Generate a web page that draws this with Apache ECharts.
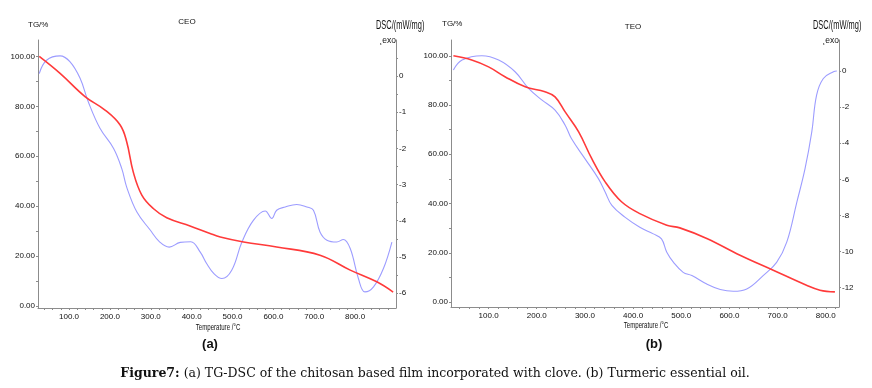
<!DOCTYPE html>
<html>
<head>
<meta charset="utf-8">
<script src="https://cdn.jsdelivr.net/npm/echarts@6/dist/echarts.min.js"></script>
<style>html,body{margin:0;padding:0;background:#fff}#c{width:872px;height:388px}</style>
</head>
<body>
<div id="c"></div>
<script>
// ---- Panel (a) CEO ----
var ceoTgT  = [27, 78, 139, 188, 225, 241, 257, 278, 306, 339, 396, 445, 470, 527, 608, 714, 788, 853, 893];
var ceoTg   = [100, 93.2, 83.9, 78.5, 72.5, 65.8, 53.7, 44.4, 39, 35.3, 32, 29, 27.6, 25.6, 23.6, 20.3, 14.3, 9.6, 5.5];
var ceoDscT = [27, 45, 78, 102, 127, 147, 176, 209, 229, 241, 266, 298, 322, 345, 372, 398, 421, 437, 455, 474, 498, 523, 551, 580, 596, 608, 629, 657, 682, 698, 714, 731, 755, 771, 788, 808, 824, 845, 869, 890];
var ceoDsc  = [0.07, 0.44, 0.56, 0.40, -0.06, -0.71, -1.45, -2.0, -2.56, -3.07, -3.76, -4.25, -4.59, -4.73, -4.6, -4.58, -4.87, -5.19, -5.47, -5.6, -5.37, -4.59, -3.99, -3.73, -3.94, -3.71, -3.62, -3.55, -3.62, -3.71, -4.31, -4.54, -4.59, -4.52, -4.77, -5.6, -5.97, -5.83, -5.33, -4.59];
// ---- Panel (b) TEO ----
var teoTgT  = [27, 65, 100, 134, 176, 217, 238, 259, 287, 314, 342, 376, 414, 470, 497, 553, 622, 691, 760, 788, 819];
var teoTg   = [100, 98.3, 95.5, 91.5, 87.4, 85.4, 83.3, 77.2, 69.1, 58.3, 48.8, 40.7, 35.9, 31.2, 30.1, 25.8, 19, 12.9, 6.8, 4.8, 4.1];
var teoDscT = [27, 45, 86, 121, 155, 183, 211, 238, 259, 272, 300, 328, 342, 356, 383, 414, 442, 459, 470, 484, 504, 522, 553, 581, 608, 636, 670, 698, 719, 740, 757, 771, 781, 795, 816, 823];
var teoDsc  = [0.06, 0.61, 0.85, 0.61, -0.04, -0.96, -1.61, -2.17, -3.0, -3.74, -4.85, -5.96, -6.7, -7.44, -8.09, -8.65, -9.02, -9.3, -10.04, -10.6, -11.15, -11.33, -11.8, -12.1, -12.2, -12.07, -11.33, -10.6, -9.48, -7.26, -5.41, -3.37, -1.33, -0.41, -0.04, 0];
// ---- Tick labels ----
var xLabels   = [100, 200, 300, 400, 500, 600, 700, 800];
var tgLabels  = [0, 20, 40, 60, 80, 100];
var dscALabels = [-6, -5, -4, -3, -2, -1, 0];
var dscBLabels = [-12, -10, -8, -6, -4, -2, 0];

function range(a, b, s) { var r = []; for (var v = a; v <= b + 1e-9; v += s) r.push(+v.toFixed(3)); return r; }
function pairs(xs, ys) { return xs.map(function (x, i) { return [x, ys[i]]; }); }

var AX = '#8c8c8c';
var FN = "'Liberation Sans',Arial,sans-serif";
var lblStyle = { color: '#111', fontSize: 8, fontFamily: FN };

function xAxis(idx, min, max) {
  return {
    type: 'value', gridIndex: idx, min: min, max: max, splitLine: { show: false },
    axisLine: { onZero: false, lineStyle: { color: AX, width: 1 } },
    axisTick: { show: true, length: 2, customValues: range(40, 880, 20).filter(function (v) { return v > min && v < max; }), lineStyle: { color: AX } },
    axisLabel: Object.assign({ customValues: xLabels, margin: 5, formatter: function (v) { return v.toFixed(1); } }, lblStyle)
  };
}
function yAxis(idx, pos, min, max, labels, ticks, fmt) {
  return {
    type: 'value', gridIndex: idx, position: pos, min: min, max: max, splitLine: { show: false },
    axisLine: { show: true, onZero: false, lineStyle: { color: AX, width: 1 } },
    axisTick: { show: true, length: 2, customValues: ticks, lineStyle: { color: AX } },
    axisLabel: Object.assign({ customValues: labels, margin: 3, formatter: fmt }, lblStyle)
  };
}
function txt(x, y, s, opt, sx) {
  return { type: 'text', x: x, y: y, scaleX: sx || 1, style: Object.assign({ text: s, fill: '#111', fontSize: 8, fontFamily: FN, verticalAlign: 'middle' }, opt || {}) };
}

var RED = '#ff3a3a', BLUE = '#9c9cff';
var tgFmt = function (v) { return v.toFixed(2); };
var dscFmt = function (v) { return String(v); };

var option = {
  animation: false,
  grid: [
    { left: 38, top: 40, width: 358, height: 268, outerBoundsMode: 'none' },
    { left: 451, top: 40, width: 388, height: 267, outerBoundsMode: 'none' }
  ],
  xAxis: [xAxis(0, 24, 900), xAxis(1, 22, 827.5)],
  yAxis: [
    yAxis(0, 'left', -0.9, 106.6, tgLabels, range(0, 100, 10), tgFmt),
    yAxis(0, 'right', -6.415, 1.0, dscALabels, range(-6, 0.5, 0.5), dscFmt),
    yAxis(1, 'left', -2.03, 106.4, tgLabels, range(0, 100, 10), tgFmt),
    yAxis(1, 'right', -13.07, 1.72, dscBLabels, dscBLabels, dscFmt)
  ],
  series: [
    { type: 'line', xAxisIndex: 0, yAxisIndex: 1, data: pairs(ceoDscT, ceoDsc), smooth: 0.4, showSymbol: false, lineStyle: { color: BLUE, width: 1.1 } },
    { type: 'line', xAxisIndex: 0, yAxisIndex: 0, data: pairs(ceoTgT, ceoTg), smooth: 0.4, showSymbol: false, lineStyle: { color: RED, width: 1.6 } },
    { type: 'line', xAxisIndex: 1, yAxisIndex: 3, data: pairs(teoDscT, teoDsc), smooth: 0.4, showSymbol: false, lineStyle: { color: BLUE, width: 1.1 } },
    { type: 'line', xAxisIndex: 1, yAxisIndex: 2, data: pairs(teoTgT, teoTg), smooth: 0.4, showSymbol: false, lineStyle: { color: RED, width: 1.6 } }
  ],
  graphic: [
    txt(28, 25, 'TG/%'),
    txt(187, 22, 'CEO', { align: 'center' }),
    txt(376, 26, 'DSC/(mW/mg)', { fontSize: 12 }, 0.62),
    txt(396, 41, '\u00b8exo', { align: 'right', fontSize: 8.5 }),
    txt(218, 328, 'Temperature /\u00b0C', { align: 'center', fontSize: 8.5 }, 0.72),
    txt(210, 344, '(a)', { align: 'center', fontSize: 13, fontWeight: 'bold' }),
    txt(442, 24, 'TG/%'),
    txt(633, 27, 'TEO', { align: 'center' }),
    txt(813, 26, 'DSC/(mW/mg)', { fontSize: 12 }, 0.62),
    txt(839, 41, '\u00b8exo', { align: 'right', fontSize: 8.5 }),
    txt(646, 326, 'Temperature /\u00b0C', { align: 'center', fontSize: 8.5 }, 0.72),
    txt(654, 344, '(b)', { align: 'center', fontSize: 13, fontWeight: 'bold' }),
    { type: 'text', x: 435, y: 374, style: {
        text: '{b|Figure7:} (a) TG-DSC of the chitosan based film incorporated with clove. (b) Turmeric essential oil.',
        align: 'center', verticalAlign: 'middle', fill: '#111', fontSize: 12.5, fontFamily: "'DejaVu Serif',serif",
        rich: { b: { fontWeight: 'bold', fontSize: 12.5, fontFamily: "'DejaVu Serif',serif", fill: '#111' } }
    } }
  ]
};
echarts.init(document.getElementById('c')).setOption(option);
</script>
</body>
</html>
